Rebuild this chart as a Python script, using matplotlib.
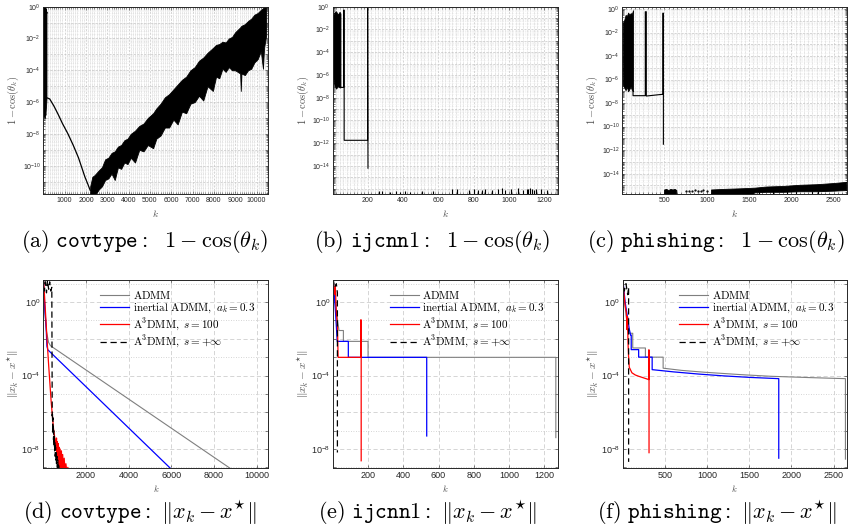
import numpy as np
import matplotlib
matplotlib.use('Agg')
import matplotlib.pyplot as plt
from matplotlib.ticker import (LogLocator, MultipleLocator, AutoMinorLocator,
                               FuncFormatter, NullLocator, NullFormatter)

plt.rcParams['font.family'] = ['Liberation Sans', 'DejaVu Sans']
plt.rcParams['mathtext.fontset'] = 'cm'

# all series values are log10 of the plotted quantity

# (a) covtype: 1 - cos(theta_k)
a_burst_k = [1, 20, 40, 60, 80, 100, 120, 140, 150]
a_burst_hi = [-0.2, 0.0, -0.3, -0.1, 0.0, -0.2, -0.1, -0.4, -0.3]
a_burst_lo = [-6.5, -6.9, -6.7, -7.0, -6.6, -6.8, -6.4, -6.0, -5.8]
a_curve_k = [150, 300, 500, 700, 900, 1150, 1400, 1650, 1950, 2100, 2200]
a_curve = [-5.72, -5.8, -6.25, -6.78, -7.35, -7.98, -8.7, -9.5, -10.7, -11.2, -11.55]
a_noise_k = [2200, 2300, 2400, 2600, 2750, 2900, 3050, 3200, 3350, 3500, 3650, 3800,
             3950, 4100, 4300, 4500, 4700, 4900, 5150, 5300, 5500, 5700, 5900, 6100,
             6300, 6500, 6700, 6900, 7100, 7300, 7500, 7700, 7950, 8100, 8250, 8400,
             8550, 8700, 8850, 9000, 9230, 9260, 9290, 9450, 9600, 9750, 9900, 10050,
             10200, 10300, 10350, 10450]
a_noise_hi = [-11.3, -10.7, -10.6, -10.3, -10.1, -9.6, -9.5, -9.2, -9.1, -8.8, -8.7, -8.4,
              -8.3, -8.0, -7.8, -7.5, -7.35, -7.0, -6.7, -6.4, -6.1, -5.7, -5.5, -5.2,
              -4.9, -4.6, -4.4, -4.0, -3.8, -3.4, -3.2, -2.9, -2.6, -2.4, -2.35, -2.2,
              -2.25, -2.0, -1.9, -1.6, -1.3, -1.25, -1.2, -1.1, -0.9, -0.75, -0.5, -0.4,
              -0.2, -0.1, -0.05, 0.0]
a_noise_lo = [-11.8, -11.9, -11.9, -11.5, -11.3, -10.9, -10.8, -10.5, -10.9, -10.1, -10.2,
              -9.8, -9.9, -9.5, -9.8, -9.0, -9.1, -8.7, -8.9, -8.3, -8.1, -7.6, -7.6,
              -7.1, -7.4, -6.6, -6.7, -6.1, -6.0, -5.6, -5.9, -5.0, -5.3, -4.4, -4.5,
              -3.9, -4.1, -3.8, -4.0, -4.0, -4.2, -5.3, -4.2, -4.3, -4.0, -3.9, -3.5,
              -3.3, -2.8, -3.9, -2.6, -1.8]

# (b) ijcnn1: 1 - cos(theta_k)
b_burst_k = [1, 10, 20, 30, 40, 45]
b_burst_hi = [-0.9, -0.5, -0.4, -0.7, -0.45, -0.6]
b_burst_lo = [-5.8, -6.9, -7.2, -7.0, -7.1, -7.1]
b_line_k = [45, 63, 63, 66, 66, 199, 199, 201]
b_line = [-7.1, -7.1, -0.3, -0.3, -11.75, -11.75, 0.0, -14.2]
b_spike_k = [262, 280, 327, 360, 383, 410, 438, 509, 569, 680, 708, 773, 801, 825,
             847, 866, 903, 940, 959, 978, 1014, 1052, 1080, 1100, 1110, 1120, 1130,
             1140, 1155, 1180, 1215]
b_spike_top = [-16.25, -16.25, -16.3, -16.25, -16.3, -16.25, -16.3, -16.25, -16.2, -16.05,
               -16.0, -16.1, -16.0, -16.15, -16.1, -16.05, -16.1, -16.0, -15.95, -16.1,
               -16.05, -15.95, -16.1, -16.0, -16.05, -15.95, -16.0, -16.1, -16.05, -16.0,
               -16.1]

# (c) phishing: 1 - cos(theta_k)
c_burst_k = [10, 25, 40, 55, 70, 85, 100, 115, 128]
c_burst_hi = [-1.2, -0.9, -0.5, -0.6, -0.3, -0.5, -0.35, -0.4, -0.1]
c_burst_lo = [-6.5, -6.7, -6.9, -6.6, -7.0, -6.8, -6.6, -6.9, -7.0]
c_line_k = [128, 128, 273, 273, 285, 285, 481, 481, 487, 487]
c_line = [-7.0, -7.37, -7.37, -0.23, -0.23, -7.4, -7.25, -0.35, -0.35, -11.5]
c_tail1_k = [495, 520, 545, 570, 595, 620, 640]
c_tail1_hi = [-15.35, -15.3, -15.4, -15.3, -15.35, -15.3, -15.4]
c_dots_k = [760, 790, 830, 860, 900, 930, 960, 1000]
c_dots = [-15.45, -15.5, -15.45, -15.4, -15.45, -15.5, -15.4, -15.45]
c_tail2_k = [1050, 1200, 1400, 1560, 1700, 1900, 2100, 2300, 2500, 2650]
c_tail2_hi = [-15.35, -15.3, -15.25, -15.2, -15.1, -15.05, -14.95, -14.9, -14.8, -14.7]
c_tail2_lo = [-17.0, -17.0, -17.0, -15.6, -15.55, -15.55, -15.5, -15.5, -15.45, -15.4]
c_dip_k = [1620, 1780, 1950, 2060, 2240, 2310]

# (d) covtype: ||x_k - x*||
d_admm_k = [1, 60, 150, 250, 340, 8760]
d_admm = [1.3, -0.3, -1.6, -2.2, -2.38, -9.05]
d_iner_k = [1, 80, 135, 170, 214, 5960]
d_iner = [1.3, -0.5, -1.42, -2.4, -2.6, -9.05]
d_s100_k = [1, 30, 60, 100, 140, 182, 250, 368, 480, 600, 620, 640, 660, 680, 700, 720,
            740, 760, 790, 820, 850, 880, 910, 940, 980, 1020, 1060, 1100, 1150, 1200]
d_s100 = [1.3, 0.9, 0.3, -0.5, -1.3, -2.14, -3.4, -5.4, -6.9, -7.9, -7.4, -8.3, -7.6,
          -8.6, -7.7, -8.9, -7.9, -9.2, -8.0, -9.2, -8.1, -9.2, -8.3, -9.2, -8.5, -9.2,
          -8.8, -9.2, -9.0, -9.2]
d_sinf_k = [1, 50, 100, 150, 200, 250, 300, 350, 400, 420, 430, 440, 450, 460, 470, 480,
            490, 500, 515, 530, 545, 560, 575, 590, 605, 620, 640, 660, 680, 700, 720, 750]
d_sinf = [1.3, 0.6, 1.1, 0.5, 1.2, 0.7, 1.1, 0.6, 0.8, -6.2, -6.0, -6.8, -6.3, -7.2, -6.7,
          -7.5, -7.0, -7.8, -7.3, -8.1, -7.6, -8.4, -7.9, -8.6, -8.2, -8.8, -8.4, -9.0,
          -8.6, -9.1, -8.9, -9.2]

# (e) ijcnn1: ||x_k - x*||
e_admm_k = [1, 20, 35, 35, 60, 60, 200, 200, 1266, 1266]
e_admm = [1.3, -0.5, -1.55, -1.55, -1.55, -2.14, -2.14, -3.01, -3.01, -7.38]
e_iner_k = [1, 15, 25, 88, 88, 533, 533]
e_iner = [1.3, -0.5, -2.14, -2.14, -3.01, -3.01, -7.29]
e_s100_k = [1, 8, 14, 20, 26, 30, 158, 158, 161, 161]
e_s100 = [1.3, 0.4, 0.9, -0.6, -1.2, -3.01, -3.01, -0.97, -0.97, -8.64]
e_sinf_k = [1, 10, 20, 26, 26]
e_sinf = [1.3, 0.8, 1.0, 0.5, -8.19]

# (f) phishing: ||x_k - x*||
f_admm_k = [1, 20, 40, 60, 75, 120, 120, 270, 270, 480, 480, 700, 968, 1396, 1750, 2200,
            2640, 2640]
f_admm = [1.3, 0.2, -0.7, -1.3, -1.7, -1.7, -2.5, -2.5, -3.0, -3.0, -3.6, -3.72, -3.82,
          -3.95, -4.04, -4.11, -4.17, -8.55]
f_iner_k = [1, 30, 60, 80, 95, 102, 102, 190, 190, 350, 350, 600, 900, 1200, 1500, 1850,
            1850]
f_iner = [1.3, 0.0, -0.9, -1.5, -1.8, -1.8, -2.59, -2.59, -3.0, -3.0, -3.68, -3.8, -3.92,
          -4.02, -4.1, -4.17, -8.5]
f_s100_k = [1, 15, 30, 45, 52, 58, 64, 70, 79, 110, 150, 190, 250, 310, 310, 313, 313]
f_s100 = [1.3, 0.5, -0.2, -0.6, -1.5, -0.8, -2.2, -2.9, -3.55, -3.85, -3.97, -4.04, -4.13,
          -4.22, -2.6, -2.6, -8.2]
f_sinf_k = [1, 20, 40, 60, 71, 71]
f_sinf = [1.3, 0.6, 1.0, 0.4, 0.8, -8.7]

legend_labels = [r'$\mathrm{ADMM}$',
                 r'$\mathrm{inertial\ ADMM,}\ a_k=0.3$',
                 r'$\mathrm{A}^3\mathrm{DMM,}\ s=100$',
                 r'$\mathrm{A}^3\mathrm{DMM,}\ s=+\infty$']
captions_top = [r'$\mathrm{(a)}\ \mathtt{covtype}\mathrm{:}\ \ 1\:-\:\cos(\theta_k)$',
                r'$\mathrm{(b)}\ \mathtt{ijcnn1}\mathrm{:}\ \ 1\:-\:\cos(\theta_k)$',
                r'$\mathrm{(c)}\ \mathtt{phishing}\mathrm{:}\ \ 1\:-\:\cos(\theta_k)$']
captions_bot = [r'$\mathrm{(d)}\ \mathtt{covtype}\mathrm{:}\ \|x_k-x^{\star}\|$',
                r'$\mathrm{(e)}\ \mathtt{ijcnn1}\mathrm{:}\ \|x_k-x^{\star}\|$',
                r'$\mathrm{(f)}\ \mathtt{phishing}\mathrm{:}\ \|x_k-x^{\star}\|$']


def lg(v):
    return 10.0 ** np.asarray(v, dtype=float)


TICK_C = '#262626'
LAB_C = '#4d4d4d'


def exp_label(step, lowest):
    def fmt(v, pos):
        e = int(round(np.log10(v)))
        if e % step or e < lowest:
            return ''
        return r'$\mathdefault{10^{%d}}$' % e
    return fmt


def finish_spines(ax):
    ax.set_axisbelow(True)
    for s in ax.spines.values():
        s.set_color('#262626')
        s.set_linewidth(0.7)


def style_top(ax, xmax, xstep, ylo, yhi, lowest):
    ax.set_yscale('log')
    ax.set_xlim(1, xmax)
    ax.set_ylim(10 ** ylo, 10 ** yhi)
    ax.xaxis.set_major_locator(MultipleLocator(xstep))
    ax.xaxis.set_minor_locator(AutoMinorLocator(10))
    ax.yaxis.set_major_locator(LogLocator(base=10, subs=(1.0,), numticks=60))
    ax.yaxis.set_minor_locator(LogLocator(base=10, subs=np.arange(2, 10), numticks=60))
    ax.yaxis.set_major_formatter(FuncFormatter(exp_label(2, lowest)))
    ax.yaxis.set_minor_formatter(NullFormatter())
    ax.grid(True, which='major', ls=(0, (3, 2)), color='#c4c4c4', lw=0.5)
    ax.grid(True, which='minor', axis='x', ls=(0, (1, 1)), color='#c8c8c8', lw=0.5)
    ax.grid(True, which='minor', axis='y', ls=(0, (1, 2)), color='#e2e2e2', lw=0.4)
    ax.tick_params(which='both', direction='in', top=True, right=True,
                   labelsize=5.0, colors=TICK_C, width=0.4)
    ax.tick_params(which='major', length=2.5, pad=2)
    ax.tick_params(which='minor', length=1.2)
    ax.set_ylabel(r'$1-\cos(\theta_k)$', fontsize=7.5, color=LAB_C, labelpad=1)
    ax.set_xlabel(r'$k$', fontsize=7, color=LAB_C, labelpad=3)
    finish_spines(ax)


def style_bot(ax, xmax, xstep):
    ax.set_yscale('log')
    ax.set_xlim(1, xmax)
    ax.set_ylim(10 ** -9.05, 10 ** 1.2)
    ax.xaxis.set_major_locator(MultipleLocator(xstep))
    ax.xaxis.set_minor_locator(NullLocator())
    ax.yaxis.set_major_locator(LogLocator(base=100, subs=(1.0,), numticks=30))
    ax.yaxis.set_minor_locator(LogLocator(base=100, subs=(10.0,), numticks=30))
    ax.yaxis.set_major_formatter(FuncFormatter(exp_label(4, -20)))
    ax.yaxis.set_minor_formatter(NullFormatter())
    ax.grid(True, which='major', ls=(0, (5, 3)), color='#cfcfcf', lw=0.6)
    ax.grid(True, which='minor', axis='y', ls=(0, (1, 2)), color='#c8c8c8', lw=0.6)
    ax.tick_params(which='both', direction='in', top=True, right=True,
                   labelsize=6.5, colors=TICK_C, width=0.4, length=2.5, pad=2)
    ax.set_ylabel(r'$\|x_k-x^{\star}\|$', fontsize=8, color=LAB_C, labelpad=0)
    ax.set_xlabel(r'$k$', fontsize=6.5, color=LAB_C, labelpad=2)
    finish_spines(ax)


def draw_bot(ax, admm, iner, s100, sinf):
    ax.plot(admm[0], lg(admm[1]), color='#7f7f7f', lw=0.8, label=legend_labels[0])
    ax.plot(iner[0], lg(iner[1]), color='#0000ff', lw=0.9, label=legend_labels[1])
    ax.plot(s100[0], lg(s100[1]), color='#ff0000', lw=0.9, label=legend_labels[2])
    ax.plot(sinf[0], lg(sinf[1]), color='k', lw=0.9, dashes=(5, 3),
            label=legend_labels[3])
    ax.legend(loc='upper left', bbox_to_anchor=(0.222, 0.99), frameon=False,
              fontsize=8.0, handlelength=2.6, handletextpad=0.35,
              labelspacing=0.13, borderaxespad=0.2)


W, H = 851.0, 531.0
fig = plt.figure(figsize=(W / 100, H / 100), dpi=100)


def box(x0, x1, ytop, ybot):
    return [x0 / W, 1 - ybot / H, (x1 - x0) / W, (ybot - ytop) / H]


ax_a = fig.add_axes(box(43.3, 268.3, 6.7, 194.3))
ax_b = fig.add_axes(box(332.7, 558.3, 6.7, 194.3))
ax_c = fig.add_axes(box(622.3, 846.7, 6.7, 194.3))
ax_d = fig.add_axes(box(43.3, 268.3, 280, 468.3))
ax_e = fig.add_axes(box(333.0, 558.3, 280, 468.3))
ax_f = fig.add_axes(box(622.7, 846.7, 280, 468.3))

# (a)
ax_a.fill_between(a_burst_k, lg(a_burst_lo), lg(a_burst_hi), color='k', lw=0.6)
ax_a.plot(a_curve_k, lg(a_curve), color='k', lw=0.9)
ax_a.fill_between(a_noise_k, lg(a_noise_lo), lg(a_noise_hi), color='k', lw=0.6)
style_top(ax_a, 10550, 1000, -11.8, 0.0, -10)

# (b)
ax_b.fill_between(b_burst_k, lg(b_burst_lo), lg(b_burst_hi), color='k', lw=0.6)
ax_b.plot(b_line_k, lg(b_line), color='k', lw=0.8)
ax_b.vlines(b_spike_k, 1e-20, lg(b_spike_top), color='k', lw=0.8)
style_top(ax_b, 1280, 200, -16.5, 0.0, -14)

# (c)
ax_c.fill_between(c_burst_k, lg(c_burst_lo), lg(c_burst_hi), color='k', lw=0.6)
ax_c.plot(c_line_k, lg(c_line), color='k', lw=0.8)
ax_c.fill_between(c_tail1_k, 1e-20, lg(c_tail1_hi), color='k', lw=0.6)
ax_c.plot(c_dots_k, lg(c_dots), 'k.', ms=1.2)
ax_c.fill_between(c_tail2_k, lg(c_tail2_lo), lg(c_tail2_hi), color='k', lw=0.6)
ax_c.vlines(c_dip_k, 1e-20, 10 ** -15.5, color='k', lw=0.8)
style_top(ax_c, 2655, 500, -15.76, 0.2, -14)

# (d)-(f)
draw_bot(ax_d, (d_admm_k, d_admm), (d_iner_k, d_iner), (d_s100_k, d_s100), (d_sinf_k, d_sinf))
style_bot(ax_d, 10550, 2000)
draw_bot(ax_e, (e_admm_k, e_admm), (e_iner_k, e_iner), (e_s100_k, e_s100), (e_sinf_k, e_sinf))
style_bot(ax_e, 1280, 200)
draw_bot(ax_f, (f_admm_k, f_admm), (f_iner_k, f_iner), (f_s100_k, f_s100), (f_sinf_k, f_sinf))
style_bot(ax_f, 2655, 500)

for xc, txt in zip([145, 432, 716], captions_top):
    fig.text(xc / W, 1 - 241 / H, txt, ha='center', va='center', fontsize=16)
for xc, txt in zip([140, 427, 717], captions_bot):
    fig.text(xc / W, 1 - 513 / H, txt, ha='center', va='center', fontsize=16)

fig.savefig('out.png', dpi=100)
